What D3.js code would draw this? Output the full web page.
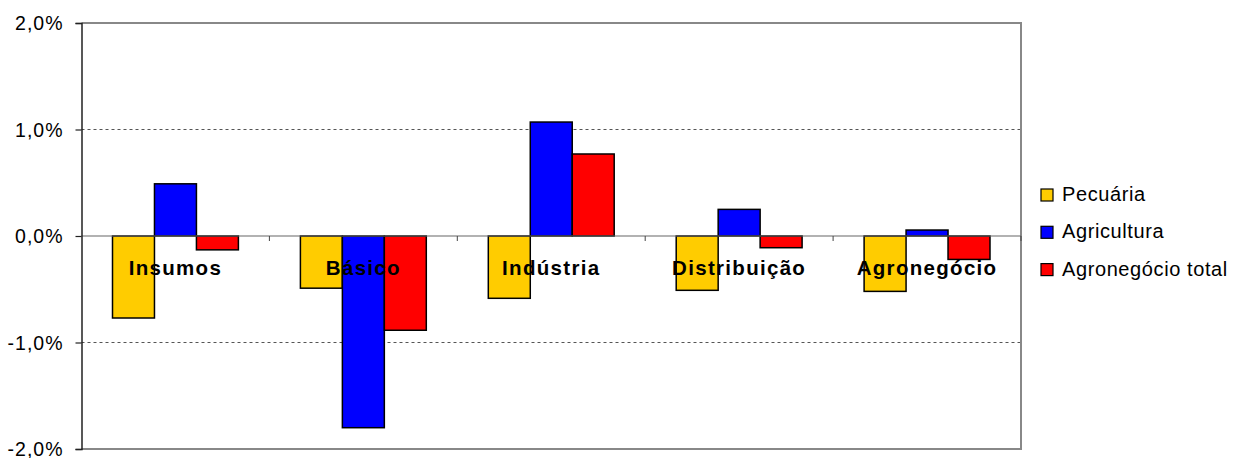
<!DOCTYPE html>
<html><head><meta charset="utf-8">
<script src="https://cdn.jsdelivr.net/npm/d3@7"></script>
<style>body{margin:0;background:#fff}svg{display:block}</style>
</head><body>
<svg id="c" width="1236" height="458"></svg>
<script>
const categories = ["Insumos","Básico","Indústria","Distribuição","Agronegócio"];
const seriesNames = ["Pecuária","Agricultura","Agronegócio total"];
const pecuaria = [-0.77,-0.49,-0.585,-0.51,-0.52];
const agricultura = [0.49,-1.80,1.07,0.25,0.056];
const agroTotal = [-0.13,-0.885,0.77,-0.11,-0.22];
const colors = ["#FFCC00","#0000FF","#FF0000"];
const yTicks = [-2,-1,0,1,2];

const series = [pecuaria, agricultura, agroTotal];
const svg = d3.select("#c");
const L = 81.5, R = 1021, T = 23, B = 449;
const font = "Liberation Sans, Arial, sans-serif";

const x = d3.scaleBand().domain(categories).range([L, R]).paddingInner(0.33).paddingOuter(0.165);
const xs = d3.scaleBand().domain(d3.range(3)).range([0, x.bandwidth()]);
const y = d3.scaleLinear().domain([-2, 2]).range([B, T]);
const fmt = v => d3.format(".1f")(v).replace(".", ",").replace("\u2212", "-") + "%";

// gridlines
svg.append("g").selectAll("line").data(yTicks.filter(t => t !== 0 && Math.abs(t) !== 2)).join("line")
  .attr("x1", L).attr("x2", R).attr("y1", d => y(d)).attr("y2", d => y(d))
  .attr("stroke", "#555").attr("stroke-width", 1).attr("stroke-dasharray", "3,3");

// plot border (top, right, bottom)
svg.append("path").attr("d", `M${L},${y(2)}H${R}V${y(-2)}H${L}`)
  .attr("fill", "none").attr("stroke", "#888").attr("stroke-width", 2);

// bars
const g = svg.append("g");
categories.forEach((c, i) => {
  series.forEach((s, j) => {
    const v = s[i];
    g.append("rect")
      .attr("x", x(c) + xs(j)).attr("width", xs.bandwidth())
      .attr("y", y(Math.max(0, v))).attr("height", Math.abs(y(v) - y(0)))
      .attr("fill", colors[j]).attr("stroke", "#000").attr("stroke-width", 1.5);
  });
});

// zero axis with category ticks
svg.append("line").attr("x1", L).attr("x2", R).attr("y1", y(0)).attr("y2", y(0))
  .attr("stroke", "#666").attr("stroke-width", 1.2);
svg.append("g").selectAll("line").data(d3.range(1, categories.length + 1)).join("line")
  .attr("x1", d => L + d * (R - L) / categories.length).attr("x2", d => L + d * (R - L) / categories.length)
  .attr("y1", y(0)).attr("y2", y(0) + 5).attr("stroke", "#444").attr("stroke-width", 1);

// y axis
const yAxis = d3.axisLeft(y).tickValues(yTicks).tickSize(6).tickFormat(fmt);
const ya = svg.append("g").attr("transform", `translate(${L},0)`).call(yAxis);
ya.select(".domain").attr("stroke", "#222").attr("stroke-width", 1.5);
ya.selectAll(".tick line").attr("stroke", "#222").attr("stroke-width", 1.2);
ya.selectAll(".tick text").attr("font-family", font).attr("font-size", 19.5).attr("letter-spacing", 1)
  .attr("fill", "#000").attr("x", -18).attr("dy", "0.34em");

// category labels
svg.append("g").selectAll("text").data(categories).join("text")
  .attr("x", d => x(d) + x.bandwidth() / 2).attr("y", 275)
  .attr("text-anchor", "middle").attr("font-family", font).attr("font-weight", "bold")
  .attr("font-size", 20.5).attr("letter-spacing", 1.3).attr("fill", "#000")
  .text(d => d);

// legend
const lg = svg.append("g");
seriesNames.forEach((n, j) => {
  const by = 201 + j * 37.3;
  lg.append("rect").attr("x", 1041).attr("y", by - 12).attr("width", 12).attr("height", 12)
    .attr("fill", colors[j]).attr("stroke", "#000").attr("stroke-width", 1.2);
  lg.append("text").attr("x", 1062).attr("y", by).attr("font-family", font)
    .attr("font-size", 20).attr("letter-spacing", 0.6).attr("fill", "#000").text(n);
});
</script>
</body></html>
